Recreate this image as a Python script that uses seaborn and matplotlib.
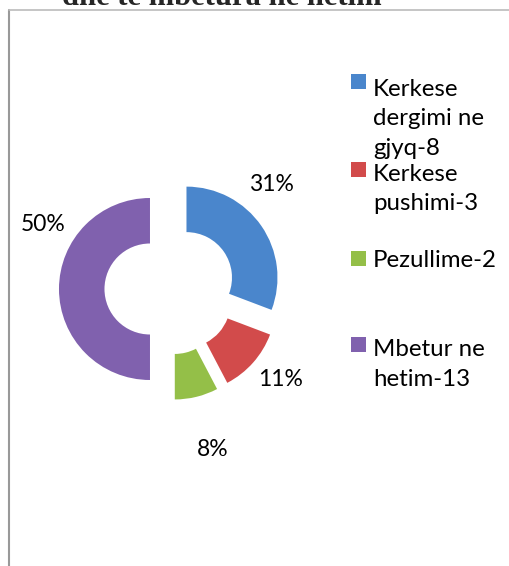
import numpy as np
import matplotlib
matplotlib.use("Agg")
import matplotlib.pyplot as plt
from matplotlib.patches import Rectangle
from matplotlib.lines import Line2D
import seaborn as sns

# --- dados ---
categorias = ["Kerkese\ndergimi ne\ngjyq-8", "Kerkese\npushimi-3", "Pezullime-2", "Mbetur ne\nhetim-13"]
valores = [8, 3, 2, 13]
rotulos_pct = ["31%", "11%", "8%", "50%"]
titulo = "dhe te mbetura ne hetim"
cores = sns.color_palette(["#4a86cc", "#d24b4b", "#94bf48", "#8061ae"])

sns.set_theme(style="white")
plt.rcParams['font.family'] = ['Lato', 'DejaVu Sans']

W, H = 509, 566
fig = plt.figure(figsize=(W / 100, H / 100), dpi=100)

# eixo ocupando a figura toda, unidade = raio do anel (91 px)
R = 91.0
cx, cy = 170.0, 289.0
ax = fig.add_axes([0, 0, 1, 1])

wedges, _ = ax.pie(valores, colors=cores, startangle=90, counterclock=False,
                   explode=[0.22] * 4, radius=1,
                   wedgeprops=dict(width=0.5, linewidth=0))
ax.set_xlim(-cx / R, (W - cx) / R)
ax.set_ylim(-(H - cy) / R, cy / R)
ax.axis('off')

# rotulos de porcentagem
frac = np.array(valores) / sum(valores)
fim = 90 - 360 * np.cumsum(frac)
meio = fim + 180 * frac
ang_rot = meio + np.array([11, 2, 1, -27])
dist_rot = [1.6, 1.57, 1.82, 1.57]
for txt, a, d in zip(rotulos_pct, ang_rot, dist_rot):
    ax.text(d * np.cos(np.radians(a)), d * np.sin(np.radians(a)), txt,
            ha='center', va='center', fontsize=16.5, color='black')

# legenda manual (entradas com espaco fixo, como no original)
base_y = [90, 178, 267, 353]
passo = 32.5
for lab, c, by in zip(categorias, cores, base_y):
    n = lab.count("\n")
    fig.patches.append(Rectangle((351 / W, 1 - (by - 1) / H), 15 / W, 15 / H,
                                 transform=fig.transFigure, facecolor=c, edgecolor='none'))
    fig.text(373 / W, 1 - (by + n * passo) / H, lab, ha='left', va='baseline',
             fontsize=17.3, linespacing=1.5, color='black')

# moldura
fig.add_artist(Line2D([9 / W, 9 / W], [0, 1 - 10 / H], transform=fig.transFigure,
                      color='#999999', linewidth=1.5))
fig.add_artist(Line2D([9 / W, 1], [1 - 10 / H, 1 - 10 / H], transform=fig.transFigure,
                      color='#bbbbbb', linewidth=1.2))

# titulo (cortado no topo)
fig.text(222 / W, 1 - 5 / H, titulo, ha='center', va='baseline', fontsize=22,
         fontweight='bold', family=['Liberation Serif', 'DejaVu Serif'])

fig.savefig("out.png", dpi=100)
